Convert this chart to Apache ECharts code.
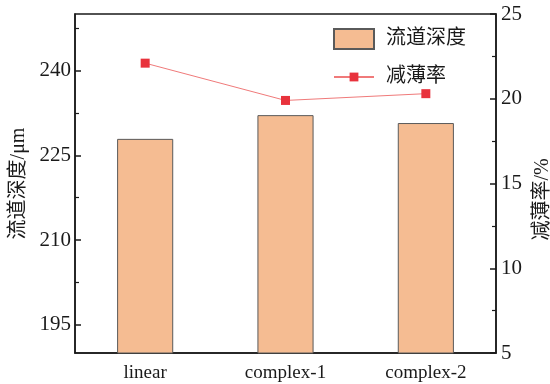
<!DOCTYPE html>
<html>
<head>
<meta charset="utf-8">
<script src="https://cdn.jsdelivr.net/npm/echarts@6/dist/echarts.min.js"></script>
<style>
  html, body { margin: 0; padding: 0; background: #fff; }
  #chart { width: 550px; height: 384px; }
</style>
</head>
<body>
<div id="chart"></div>
<script>
// Channel depth (bars, left axis) and thinning rate (line, right axis)
const categories = ['linear', 'complex-1', 'complex-2'];
const depthValues = [227.9, 232.1, 230.7];   // μm
const thinningValues = [22.1, 19.9, 20.3];   // %
const depthTicks = [195, 210, 225, 240];
const depthMinorTicks = [202.5, 217.5, 232.5, 247.5];
const seriesNames = ['流道深度', '减薄率'];

const serif = '"Liberation Serif", "Times New Roman", "Noto Sans CJK SC", serif';
const ink = '#1a1a1a';
const legendText = { fontFamily: serif, fontSize: 20, color: ink, padding: [0, 0, 0, 7] };

const chart = echarts.init(document.getElementById('chart'), null, { renderer: 'canvas' });

chart.setOption({
  animation: false,
  backgroundColor: '#fff',
  textStyle: { fontFamily: serif },
  grid: {
    left: 75, right: 54, top: 14, bottom: 31,
    outerBoundsMode: 'none',
    containLabel: false,
    show: true, borderColor: ink, borderWidth: 1.5, backgroundColor: 'transparent'
  },
  legend: [
    {
      left: 333, top: 28, padding: 0,
      itemWidth: 40, itemHeight: 20, itemGap: 10,
      icon: 'rect',
      textStyle: legendText,
      data: [seriesNames[0]]
    },
    {
      left: 333, top: 67, padding: 0,
      itemWidth: 40, itemHeight: 11, itemGap: 10,
      textStyle: legendText,
      data: [seriesNames[1]]
    }
  ],
  xAxis: {
    type: 'category',
    data: categories,
    axisLine: { lineStyle: { color: ink, width: 1.5 } },
    axisTick: { show: false },
    axisLabel: { fontFamily: serif, fontSize: 19, color: ink, margin: 11 },
    splitLine: { show: false }
  },
  yAxis: [
    {
      type: 'value', position: 'left',
      min: 190, max: 250,
      name: '流道深度/μm', nameLocation: 'middle', nameGap: 40, nameRotate: 90,
      nameTextStyle: { fontFamily: serif, fontSize: 20, color: ink },
      axisLine: { show: true, lineStyle: { color: ink, width: 1.5 } },
      axisTick: { show: true, inside: true, length: 6, customValues: depthTicks, lineStyle: { color: ink, width: 1.5 } },
      axisLabel: { fontFamily: serif, fontSize: 21, color: ink, margin: 4, customValues: depthTicks },
      splitLine: { show: false }
    },
    {
      type: 'value', position: 'right',
      min: 5, max: 25, interval: 5,
      name: '减薄率/%', nameLocation: 'middle', nameGap: 34, nameRotate: 90,
      nameTextStyle: { fontFamily: serif, fontSize: 20, color: ink, padding: [0, 32, 0, 0] },
      axisLine: { show: true, lineStyle: { color: ink, width: 1.5 } },
      axisTick: { show: true, inside: true, length: 6, lineStyle: { color: ink, width: 1.5 } },
      minorTick: { show: true, splitNumber: 2, length: 4, lineStyle: { color: ink, width: 1.2 } },
      axisLabel: { fontFamily: serif, fontSize: 21, color: ink, margin: 5 },
      splitLine: { show: false }
    },
    {
      // minor ticks of the depth axis, drawn on an overlaid copy of it
      type: 'value', position: 'left',
      min: 190, max: 250,
      axisLine: { show: false },
      axisTick: { show: true, inside: true, length: 4, customValues: depthMinorTicks, lineStyle: { color: ink, width: 1.2 } },
      axisLabel: { show: false },
      splitLine: { show: false }
    }
  ],
  series: [
    {
      name: seriesNames[0],
      type: 'bar',
      yAxisIndex: 0,
      data: depthValues,
      barWidth: '40%',
      itemStyle: { color: '#f5bc92', borderColor: '#5a5a5a', borderWidth: 1 }
    },
    {
      name: seriesNames[1],
      type: 'line',
      yAxisIndex: 1,
      data: thinningValues,
      symbol: 'rect',
      symbolSize: 9,
      itemStyle: { color: '#e8323c' },
      lineStyle: { color: '#f07a7a', width: 1 }
    }
  ]
});
</script>
</body>
</html>
